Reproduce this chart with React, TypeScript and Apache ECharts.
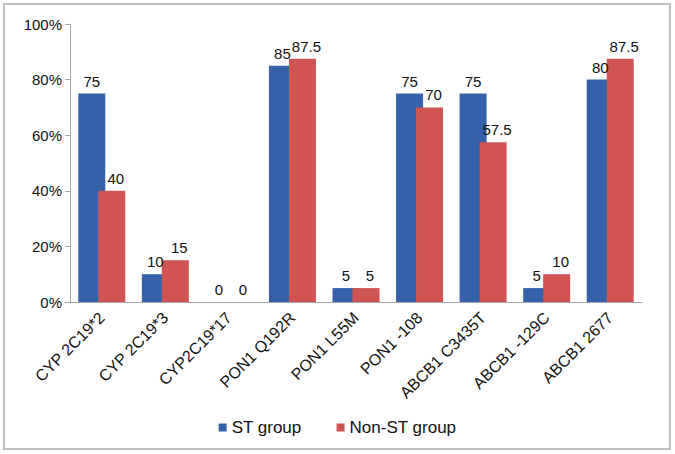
import React, { useEffect, useRef } from "react";
import * as echarts from "echarts";

const categories = [
  "CYP 2C19*2",
  "CYP 2C19*3",
  "CYP2C19*17",
  "PON1 Q192R",
  "PON1 L55M",
  "PON1 -108",
  "ABCB1 C3435T",
  "ABCB1 -129C",
  "ABCB1 2677",
];
const stGroup = [75, 10, 0, 85, 5, 75, 75, 5, 80];
const nonStGroup = [40, 15, 0, 87.5, 5, 70, 57.5, 10, 87.5];
const seriesNames = ["ST group", "Non-ST group"];

export default function App() {
  const ref = useRef<HTMLDivElement>(null);
  useEffect(() => {
    if (!ref.current) return;
    const chart = echarts.init(ref.current, null, { renderer: "svg" });
    const font = "Liberation Sans, Arial, sans-serif";
    chart.setOption({
      animation: false,
      backgroundColor: "#ffffff",
      textStyle: { fontFamily: font },
      graphic: [
        {
          type: "rect",
          shape: { x: 4, y: 4, width: 666, height: 445 },
          style: { fill: "none", stroke: "#BFBFBF", lineWidth: 2 },
          silent: true,
        },
      ],
      grid: { left: 70, right: 33, top: 24, bottom: 152 },
      legend: {
        data: seriesNames,
        bottom: 13,
        left: "center",
        icon: "rect",
        itemWidth: 8,
        itemHeight: 8,
        itemGap: 35,
        textStyle: { fontSize: 17, color: "#111", fontFamily: font },
      },
      xAxis: {
        type: "category",
        data: categories,
        axisLine: { lineStyle: { color: "#A6A6A6", width: 1 } },
        axisTick: { show: false },
        axisLabel: {
          interval: 0,
          rotate: 45,
          fontSize: 16,
          color: "#111",
          margin: 13,
          fontFamily: font,
        },
      },
      yAxis: {
        type: "value",
        min: 0,
        max: 100,
        interval: 20,
        axisLine: { show: true, lineStyle: { color: "#A6A6A6", width: 1 } },
        axisTick: { show: true, length: 5, lineStyle: { color: "#A6A6A6" } },
        splitLine: { show: false },
        axisLabel: {
          formatter: "{value}%",
          fontSize: 15,
          color: "#111",
          margin: 8,
          fontFamily: font,
        },
      },
      series: [
        {
          name: seriesNames[0],
          type: "bar",
          data: stGroup,
          barWidth: 27,
          barGap: "-26%",
          itemStyle: { color: "#3561AA" },
          label: {
            show: true,
            position: "top",
            distance: 5,
            fontSize: 15,
            color: "#111",
            fontFamily: font,
          },
        },
        {
          name: seriesNames[1],
          type: "bar",
          data: nonStGroup,
          barWidth: 27,
          itemStyle: { color: "#D05451" },
          label: {
            show: true,
            position: "top",
            distance: 5,
            offset: [4, 0],
            fontSize: 15,
            color: "#111",
            fontFamily: font,
          },
        },
      ],
    });
    return () => chart.dispose();
  }, []);
  return (
    <div
      ref={ref}
      style={{ position: "fixed", left: 0, top: 0, width: 675, height: 454 }}
    />
  );
}
